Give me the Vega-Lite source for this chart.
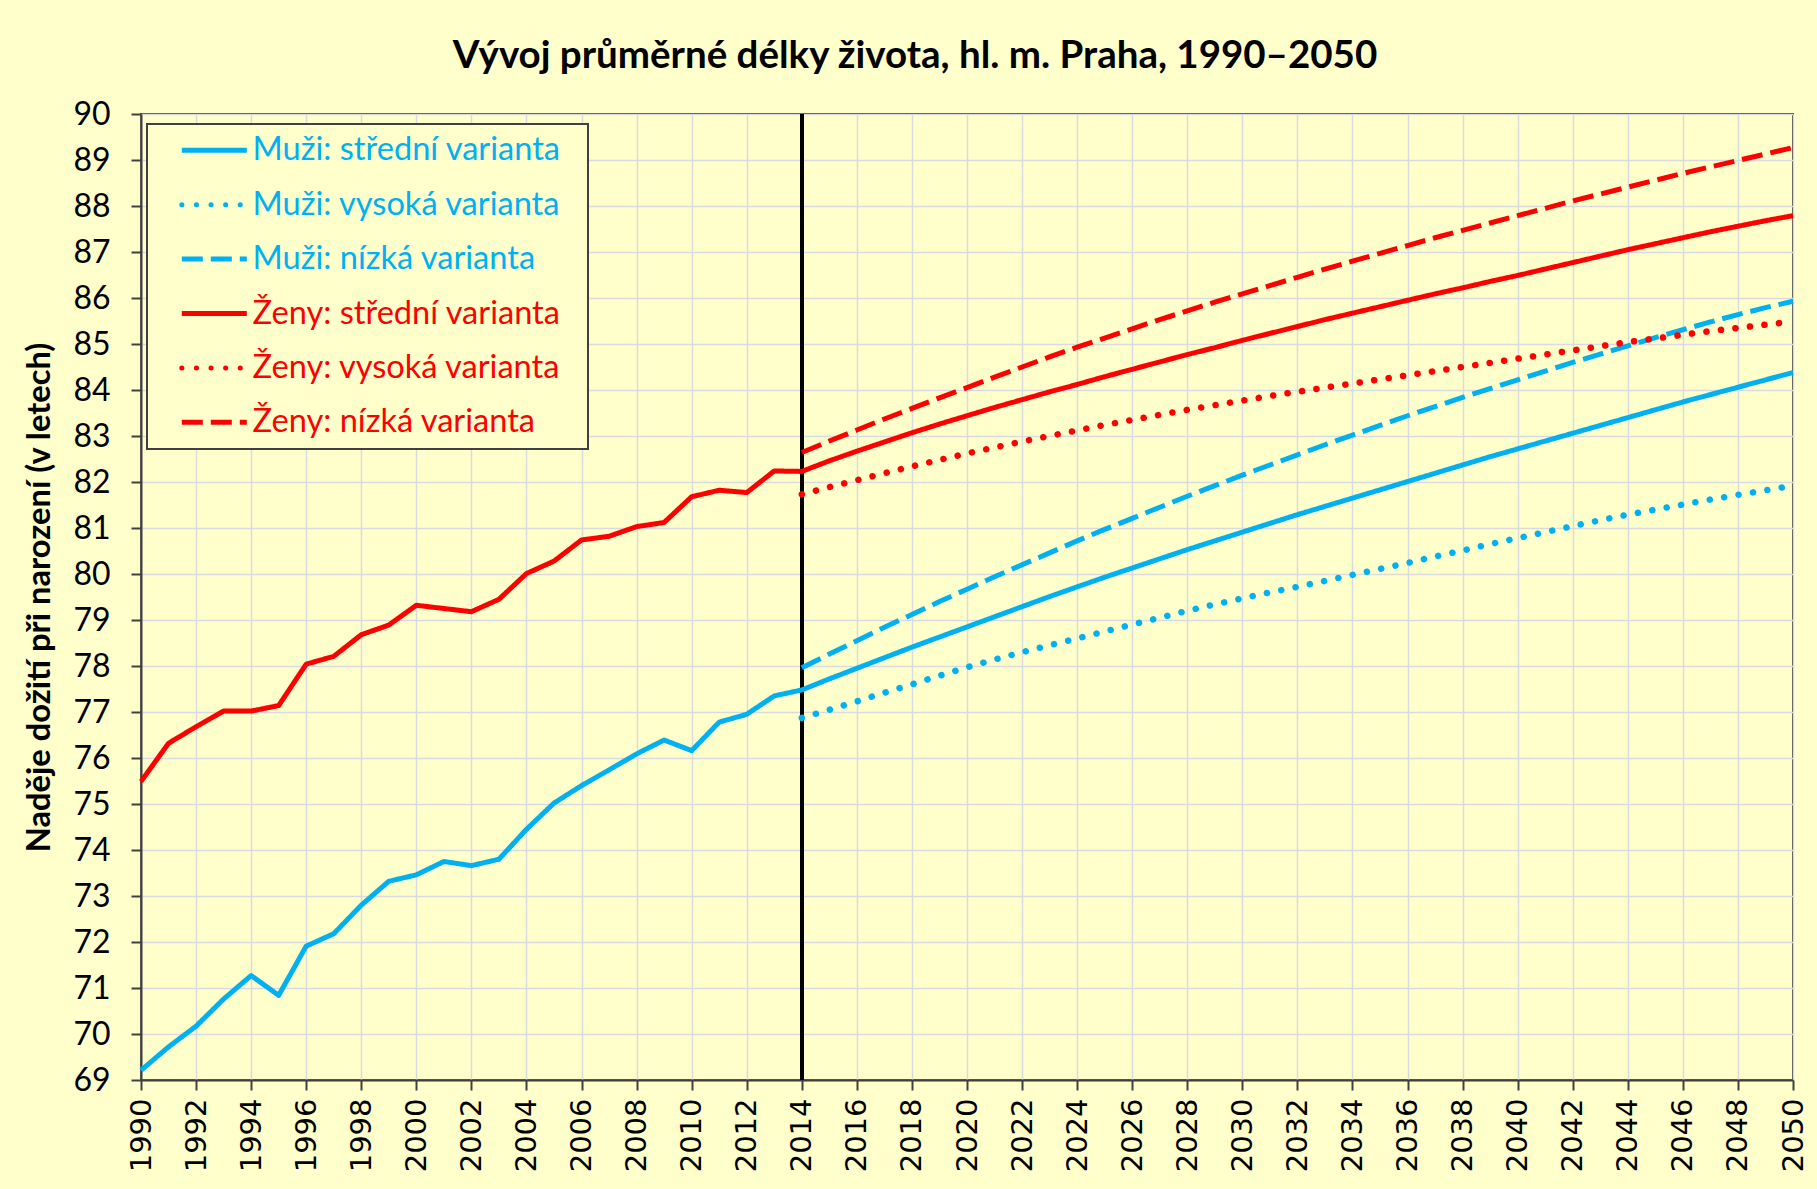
{
  "$schema": "https://vega.github.io/schema/vega-lite/v6.json",
  "width": 1652,
  "height": 966,
  "autosize": "none",
  "padding": {"left": 141, "top": 114, "right": 24, "bottom": 109},
  "background": "#FFFFCC",
  "title": {"text": "Vývoj průměrné délky života, hl. m. Praha, 1990–2050", "font": "Lato", "fontSize": 38.5, "fontWeight": "bold", "color": "#000000", "anchor": "middle", "offset": 40, "dx": -52, "dy": 18},
  "config": {"view": {"stroke": "#404040", "strokeWidth": 2}},
  "datasets": {
    "d": [
      {"year": 1990, "series": "Muži: střední varianta", "value": 69.21},
      {"year": 1991, "series": "Muži: střední varianta", "value": 69.72},
      {"year": 1992, "series": "Muži: střední varianta", "value": 70.17},
      {"year": 1993, "series": "Muži: střední varianta", "value": 70.76},
      {"year": 1994, "series": "Muži: střední varianta", "value": 71.27},
      {"year": 1995, "series": "Muži: střední varianta", "value": 70.84},
      {"year": 1996, "series": "Muži: střední varianta", "value": 71.91},
      {"year": 1997, "series": "Muži: střední varianta", "value": 72.18},
      {"year": 1998, "series": "Muži: střední varianta", "value": 72.80},
      {"year": 1999, "series": "Muži: střední varianta", "value": 73.32},
      {"year": 2000, "series": "Muži: střední varianta", "value": 73.46},
      {"year": 2001, "series": "Muži: střední varianta", "value": 73.75},
      {"year": 2002, "series": "Muži: střední varianta", "value": 73.66},
      {"year": 2003, "series": "Muži: střední varianta", "value": 73.80},
      {"year": 2004, "series": "Muži: střední varianta", "value": 74.45},
      {"year": 2005, "series": "Muži: střední varianta", "value": 75.02},
      {"year": 2006, "series": "Muži: střední varianta", "value": 75.40},
      {"year": 2007, "series": "Muži: střední varianta", "value": 75.74},
      {"year": 2008, "series": "Muži: střední varianta", "value": 76.09},
      {"year": 2009, "series": "Muži: střední varianta", "value": 76.39},
      {"year": 2010, "series": "Muži: střední varianta", "value": 76.16},
      {"year": 2011, "series": "Muži: střední varianta", "value": 76.78},
      {"year": 2012, "series": "Muži: střední varianta", "value": 76.95},
      {"year": 2013, "series": "Muži: střední varianta", "value": 77.35},
      {"year": 2014, "series": "Muži: střední varianta", "value": 77.48},
      {"year": 2015, "series": "Muži: střední varianta", "value": 77.72},
      {"year": 2016, "series": "Muži: střední varianta", "value": 77.95},
      {"year": 2017, "series": "Muži: střední varianta", "value": 78.18},
      {"year": 2018, "series": "Muži: střední varianta", "value": 78.41},
      {"year": 2019, "series": "Muži: střední varianta", "value": 78.63},
      {"year": 2020, "series": "Muži: střední varianta", "value": 78.85},
      {"year": 2021, "series": "Muži: střední varianta", "value": 79.07},
      {"year": 2022, "series": "Muži: střední varianta", "value": 79.29},
      {"year": 2023, "series": "Muži: střední varianta", "value": 79.51},
      {"year": 2024, "series": "Muži: střední varianta", "value": 79.72},
      {"year": 2025, "series": "Muži: střední varianta", "value": 79.93},
      {"year": 2026, "series": "Muži: střední varianta", "value": 80.13},
      {"year": 2027, "series": "Muži: střední varianta", "value": 80.33},
      {"year": 2028, "series": "Muži: střední varianta", "value": 80.53},
      {"year": 2029, "series": "Muži: střední varianta", "value": 80.72},
      {"year": 2030, "series": "Muži: střední varianta", "value": 80.91},
      {"year": 2031, "series": "Muži: střední varianta", "value": 81.10},
      {"year": 2032, "series": "Muži: střední varianta", "value": 81.29},
      {"year": 2033, "series": "Muži: střední varianta", "value": 81.47},
      {"year": 2034, "series": "Muži: střední varianta", "value": 81.65},
      {"year": 2035, "series": "Muži: střední varianta", "value": 81.83},
      {"year": 2036, "series": "Muži: střední varianta", "value": 82.01},
      {"year": 2037, "series": "Muži: střední varianta", "value": 82.19},
      {"year": 2038, "series": "Muži: střední varianta", "value": 82.37},
      {"year": 2039, "series": "Muži: střední varianta", "value": 82.55},
      {"year": 2040, "series": "Muži: střední varianta", "value": 82.72},
      {"year": 2041, "series": "Muži: střední varianta", "value": 82.89},
      {"year": 2042, "series": "Muži: střední varianta", "value": 83.06},
      {"year": 2043, "series": "Muži: střední varianta", "value": 83.23},
      {"year": 2044, "series": "Muži: střední varianta", "value": 83.40},
      {"year": 2045, "series": "Muži: střední varianta", "value": 83.57},
      {"year": 2046, "series": "Muži: střední varianta", "value": 83.74},
      {"year": 2047, "series": "Muži: střední varianta", "value": 83.90},
      {"year": 2048, "series": "Muži: střední varianta", "value": 84.06},
      {"year": 2049, "series": "Muži: střední varianta", "value": 84.22},
      {"year": 2050, "series": "Muži: střední varianta", "value": 84.38},

      {"year": 2014, "series": "Muži: vysoká varianta", "value": 76.87},
      {"year": 2015, "series": "Muži: vysoká varianta", "value": 77.05},
      {"year": 2016, "series": "Muži: vysoká varianta", "value": 77.23},
      {"year": 2017, "series": "Muži: vysoká varianta", "value": 77.42},
      {"year": 2018, "series": "Muži: vysoká varianta", "value": 77.60},
      {"year": 2019, "series": "Muži: vysoká varianta", "value": 77.79},
      {"year": 2020, "series": "Muži: vysoká varianta", "value": 77.97},
      {"year": 2021, "series": "Muži: vysoká varianta", "value": 78.14},
      {"year": 2022, "series": "Muži: vysoká varianta", "value": 78.30},
      {"year": 2023, "series": "Muži: vysoká varianta", "value": 78.45},
      {"year": 2024, "series": "Muži: vysoká varianta", "value": 78.60},
      {"year": 2025, "series": "Muži: vysoká varianta", "value": 78.75},
      {"year": 2026, "series": "Muži: vysoká varianta", "value": 78.90},
      {"year": 2027, "series": "Muži: vysoká varianta", "value": 79.05},
      {"year": 2028, "series": "Muži: vysoká varianta", "value": 79.20},
      {"year": 2029, "series": "Muži: vysoká varianta", "value": 79.34},
      {"year": 2030, "series": "Muži: vysoká varianta", "value": 79.47},
      {"year": 2031, "series": "Muži: vysoká varianta", "value": 79.60},
      {"year": 2032, "series": "Muži: vysoká varianta", "value": 79.72},
      {"year": 2033, "series": "Muži: vysoká varianta", "value": 79.85},
      {"year": 2034, "series": "Muži: vysoká varianta", "value": 79.98},
      {"year": 2035, "series": "Muži: vysoká varianta", "value": 80.11},
      {"year": 2036, "series": "Muži: vysoká varianta", "value": 80.24},
      {"year": 2037, "series": "Muži: vysoká varianta", "value": 80.38},
      {"year": 2038, "series": "Muži: vysoká varianta", "value": 80.51},
      {"year": 2039, "series": "Muži: vysoká varianta", "value": 80.65},
      {"year": 2040, "series": "Muži: vysoká varianta", "value": 80.78},
      {"year": 2041, "series": "Muži: vysoká varianta", "value": 80.91},
      {"year": 2042, "series": "Muži: vysoká varianta", "value": 81.04},
      {"year": 2043, "series": "Muži: vysoká varianta", "value": 81.17},
      {"year": 2044, "series": "Muži: vysoká varianta", "value": 81.29},
      {"year": 2045, "series": "Muži: vysoká varianta", "value": 81.40},
      {"year": 2046, "series": "Muži: vysoká varianta", "value": 81.51},
      {"year": 2047, "series": "Muži: vysoká varianta", "value": 81.62},
      {"year": 2048, "series": "Muži: vysoká varianta", "value": 81.72},
      {"year": 2049, "series": "Muži: vysoká varianta", "value": 81.82},
      {"year": 2050, "series": "Muži: vysoká varianta", "value": 81.92},

      {"year": 2014, "series": "Muži: nízká varianta", "value": 77.96},
      {"year": 2015, "series": "Muži: nízká varianta", "value": 78.26},
      {"year": 2016, "series": "Muži: nízká varianta", "value": 78.55},
      {"year": 2017, "series": "Muži: nízká varianta", "value": 78.84},
      {"year": 2018, "series": "Muži: nízká varianta", "value": 79.12},
      {"year": 2019, "series": "Muži: nízká varianta", "value": 79.40},
      {"year": 2020, "series": "Muži: nízká varianta", "value": 79.67},
      {"year": 2021, "series": "Muži: nízká varianta", "value": 79.94},
      {"year": 2022, "series": "Muži: nízká varianta", "value": 80.20},
      {"year": 2023, "series": "Muži: nízká varianta", "value": 80.46},
      {"year": 2024, "series": "Muži: nízká varianta", "value": 80.72},
      {"year": 2025, "series": "Muži: nízká varianta", "value": 80.97},
      {"year": 2026, "series": "Muži: nízká varianta", "value": 81.21},
      {"year": 2027, "series": "Muži: nízká varianta", "value": 81.45},
      {"year": 2028, "series": "Muži: nízká varianta", "value": 81.69},
      {"year": 2029, "series": "Muži: nízká varianta", "value": 81.92},
      {"year": 2030, "series": "Muži: nízká varianta", "value": 82.15},
      {"year": 2031, "series": "Muži: nízká varianta", "value": 82.37},
      {"year": 2032, "series": "Muži: nízká varianta", "value": 82.59},
      {"year": 2033, "series": "Muži: nízká varianta", "value": 82.81},
      {"year": 2034, "series": "Muži: nízká varianta", "value": 83.02},
      {"year": 2035, "series": "Muži: nízká varianta", "value": 83.23},
      {"year": 2036, "series": "Muži: nízká varianta", "value": 83.44},
      {"year": 2037, "series": "Muži: nízká varianta", "value": 83.64},
      {"year": 2038, "series": "Muži: nízká varianta", "value": 83.84},
      {"year": 2039, "series": "Muži: nízká varianta", "value": 84.03},
      {"year": 2040, "series": "Muži: nízká varianta", "value": 84.22},
      {"year": 2041, "series": "Muži: nízká varianta", "value": 84.41},
      {"year": 2042, "series": "Muži: nízká varianta", "value": 84.60},
      {"year": 2043, "series": "Muži: nízká varianta", "value": 84.78},
      {"year": 2044, "series": "Muži: nízká varianta", "value": 84.96},
      {"year": 2045, "series": "Muži: nízká varianta", "value": 85.14},
      {"year": 2046, "series": "Muži: nízká varianta", "value": 85.31},
      {"year": 2047, "series": "Muži: nízká varianta", "value": 85.48},
      {"year": 2048, "series": "Muži: nízká varianta", "value": 85.64},
      {"year": 2049, "series": "Muži: nízká varianta", "value": 85.79},
      {"year": 2050, "series": "Muži: nízká varianta", "value": 85.93},

      {"year": 1990, "series": "Ženy: střední varianta", "value": 75.49},
      {"year": 1991, "series": "Ženy: střední varianta", "value": 76.32},
      {"year": 1992, "series": "Ženy: střední varianta", "value": 76.68},
      {"year": 1993, "series": "Ženy: střední varianta", "value": 77.02},
      {"year": 1994, "series": "Ženy: střední varianta", "value": 77.02},
      {"year": 1995, "series": "Ženy: střední varianta", "value": 77.14},
      {"year": 1996, "series": "Ženy: střední varianta", "value": 78.04},
      {"year": 1997, "series": "Ženy: střední varianta", "value": 78.21},
      {"year": 1998, "series": "Ženy: střední varianta", "value": 78.68},
      {"year": 1999, "series": "Ženy: střední varianta", "value": 78.89},
      {"year": 2000, "series": "Ženy: střední varianta", "value": 79.32},
      {"year": 2001, "series": "Ženy: střední varianta", "value": 79.25},
      {"year": 2002, "series": "Ženy: střední varianta", "value": 79.18},
      {"year": 2003, "series": "Ženy: střední varianta", "value": 79.45},
      {"year": 2004, "series": "Ženy: střední varianta", "value": 80.01},
      {"year": 2005, "series": "Ženy: střední varianta", "value": 80.28},
      {"year": 2006, "series": "Ženy: střední varianta", "value": 80.74},
      {"year": 2007, "series": "Ženy: střední varianta", "value": 80.82},
      {"year": 2008, "series": "Ženy: střední varianta", "value": 81.03},
      {"year": 2009, "series": "Ženy: střední varianta", "value": 81.12},
      {"year": 2010, "series": "Ženy: střední varianta", "value": 81.68},
      {"year": 2011, "series": "Ženy: střední varianta", "value": 81.82},
      {"year": 2012, "series": "Ženy: střední varianta", "value": 81.77},
      {"year": 2013, "series": "Ženy: střední varianta", "value": 82.24},
      {"year": 2014, "series": "Ženy: střední varianta", "value": 82.23},
      {"year": 2015, "series": "Ženy: střední varianta", "value": 82.46},
      {"year": 2016, "series": "Ženy: střední varianta", "value": 82.67},
      {"year": 2017, "series": "Ženy: střední varianta", "value": 82.87},
      {"year": 2018, "series": "Ženy: střední varianta", "value": 83.07},
      {"year": 2019, "series": "Ženy: střední varianta", "value": 83.26},
      {"year": 2020, "series": "Ženy: střední varianta", "value": 83.44},
      {"year": 2021, "series": "Ženy: střední varianta", "value": 83.62},
      {"year": 2022, "series": "Ženy: střední varianta", "value": 83.79},
      {"year": 2023, "series": "Ženy: střední varianta", "value": 83.96},
      {"year": 2024, "series": "Ženy: střední varianta", "value": 84.12},
      {"year": 2025, "series": "Ženy: střední varianta", "value": 84.29},
      {"year": 2026, "series": "Ženy: střední varianta", "value": 84.45},
      {"year": 2027, "series": "Ženy: střední varianta", "value": 84.61},
      {"year": 2028, "series": "Ženy: střední varianta", "value": 84.77},
      {"year": 2029, "series": "Ženy: střední varianta", "value": 84.92},
      {"year": 2030, "series": "Ženy: střední varianta", "value": 85.08},
      {"year": 2031, "series": "Ženy: střední varianta", "value": 85.23},
      {"year": 2032, "series": "Ženy: střední varianta", "value": 85.38},
      {"year": 2033, "series": "Ženy: střední varianta", "value": 85.53},
      {"year": 2034, "series": "Ženy: střední varianta", "value": 85.67},
      {"year": 2035, "series": "Ženy: střední varianta", "value": 85.81},
      {"year": 2036, "series": "Ženy: střední varianta", "value": 85.95},
      {"year": 2037, "series": "Ženy: střední varianta", "value": 86.09},
      {"year": 2038, "series": "Ženy: střední varianta", "value": 86.22},
      {"year": 2039, "series": "Ženy: střední varianta", "value": 86.36},
      {"year": 2040, "series": "Ženy: střední varianta", "value": 86.49},
      {"year": 2041, "series": "Ženy: střední varianta", "value": 86.63},
      {"year": 2042, "series": "Ženy: střední varianta", "value": 86.77},
      {"year": 2043, "series": "Ženy: střední varianta", "value": 86.91},
      {"year": 2044, "series": "Ženy: střední varianta", "value": 87.05},
      {"year": 2045, "series": "Ženy: střední varianta", "value": 87.18},
      {"year": 2046, "series": "Ženy: střední varianta", "value": 87.31},
      {"year": 2047, "series": "Ženy: střední varianta", "value": 87.44},
      {"year": 2048, "series": "Ženy: střední varianta", "value": 87.56},
      {"year": 2049, "series": "Ženy: střední varianta", "value": 87.68},
      {"year": 2050, "series": "Ženy: střední varianta", "value": 87.79},

      {"year": 2014, "series": "Ženy: vysoká varianta", "value": 81.73},
      {"year": 2015, "series": "Ženy: vysoká varianta", "value": 81.89},
      {"year": 2016, "series": "Ženy: vysoká varianta", "value": 82.04},
      {"year": 2017, "series": "Ženy: vysoká varianta", "value": 82.19},
      {"year": 2018, "series": "Ženy: vysoká varianta", "value": 82.34},
      {"year": 2019, "series": "Ženy: vysoká varianta", "value": 82.48},
      {"year": 2020, "series": "Ženy: vysoká varianta", "value": 82.62},
      {"year": 2021, "series": "Ženy: vysoká varianta", "value": 82.75},
      {"year": 2022, "series": "Ženy: vysoká varianta", "value": 82.88},
      {"year": 2023, "series": "Ženy: vysoká varianta", "value": 83.00},
      {"year": 2024, "series": "Ženy: vysoká varianta", "value": 83.12},
      {"year": 2025, "series": "Ženy: vysoká varianta", "value": 83.24},
      {"year": 2026, "series": "Ženy: vysoká varianta", "value": 83.35},
      {"year": 2027, "series": "Ženy: vysoká varianta", "value": 83.46},
      {"year": 2028, "series": "Ženy: vysoká varianta", "value": 83.57},
      {"year": 2029, "series": "Ženy: vysoká varianta", "value": 83.67},
      {"year": 2030, "series": "Ženy: vysoká varianta", "value": 83.77},
      {"year": 2031, "series": "Ženy: vysoká varianta", "value": 83.87},
      {"year": 2032, "series": "Ženy: vysoká varianta", "value": 83.96},
      {"year": 2033, "series": "Ženy: vysoká varianta", "value": 84.05},
      {"year": 2034, "series": "Ženy: vysoká varianta", "value": 84.14},
      {"year": 2035, "series": "Ženy: vysoká varianta", "value": 84.23},
      {"year": 2036, "series": "Ženy: vysoká varianta", "value": 84.32},
      {"year": 2037, "series": "Ženy: vysoká varianta", "value": 84.41},
      {"year": 2038, "series": "Ženy: vysoká varianta", "value": 84.50},
      {"year": 2039, "series": "Ženy: vysoká varianta", "value": 84.59},
      {"year": 2040, "series": "Ženy: vysoká varianta", "value": 84.68},
      {"year": 2041, "series": "Ženy: vysoká varianta", "value": 84.77},
      {"year": 2042, "series": "Ženy: vysoká varianta", "value": 84.86},
      {"year": 2043, "series": "Ženy: vysoká varianta", "value": 84.95},
      {"year": 2044, "series": "Ženy: vysoká varianta", "value": 85.04},
      {"year": 2045, "series": "Ženy: vysoká varianta", "value": 85.12},
      {"year": 2046, "series": "Ženy: vysoká varianta", "value": 85.20},
      {"year": 2047, "series": "Ženy: vysoká varianta", "value": 85.28},
      {"year": 2048, "series": "Ženy: vysoká varianta", "value": 85.35},
      {"year": 2049, "series": "Ženy: vysoká varianta", "value": 85.42},
      {"year": 2050, "series": "Ženy: vysoká varianta", "value": 85.49},

      {"year": 2014, "series": "Ženy: nízká varianta", "value": 82.64},
      {"year": 2015, "series": "Ženy: nízká varianta", "value": 82.89},
      {"year": 2016, "series": "Ženy: nízká varianta", "value": 83.13},
      {"year": 2017, "series": "Ženy: nízká varianta", "value": 83.37},
      {"year": 2018, "series": "Ženy: nízká varianta", "value": 83.60},
      {"year": 2019, "series": "Ženy: nízká varianta", "value": 83.83},
      {"year": 2020, "series": "Ženy: nízká varianta", "value": 84.05},
      {"year": 2021, "series": "Ženy: nízká varianta", "value": 84.28},
      {"year": 2022, "series": "Ženy: nízká varianta", "value": 84.50},
      {"year": 2023, "series": "Ženy: nízká varianta", "value": 84.72},
      {"year": 2024, "series": "Ženy: nízká varianta", "value": 84.93},
      {"year": 2025, "series": "Ženy: nízká varianta", "value": 85.13},
      {"year": 2026, "series": "Ženy: nízká varianta", "value": 85.33},
      {"year": 2027, "series": "Ženy: nízká varianta", "value": 85.53},
      {"year": 2028, "series": "Ženy: nízká varianta", "value": 85.72},
      {"year": 2029, "series": "Ženy: nízká varianta", "value": 85.91},
      {"year": 2030, "series": "Ženy: nízká varianta", "value": 86.09},
      {"year": 2031, "series": "Ženy: nízká varianta", "value": 86.27},
      {"year": 2032, "series": "Ženy: nízká varianta", "value": 86.45},
      {"year": 2033, "series": "Ženy: nízká varianta", "value": 86.63},
      {"year": 2034, "series": "Ženy: nízká varianta", "value": 86.80},
      {"year": 2035, "series": "Ženy: nízká varianta", "value": 86.97},
      {"year": 2036, "series": "Ženy: nízká varianta", "value": 87.14},
      {"year": 2037, "series": "Ženy: nízká varianta", "value": 87.31},
      {"year": 2038, "series": "Ženy: nízká varianta", "value": 87.47},
      {"year": 2039, "series": "Ženy: nízká varianta", "value": 87.63},
      {"year": 2040, "series": "Ženy: nízká varianta", "value": 87.79},
      {"year": 2041, "series": "Ženy: nízká varianta", "value": 87.95},
      {"year": 2042, "series": "Ženy: nízká varianta", "value": 88.11},
      {"year": 2043, "series": "Ženy: nízká varianta", "value": 88.26},
      {"year": 2044, "series": "Ženy: nízká varianta", "value": 88.41},
      {"year": 2045, "series": "Ženy: nízká varianta", "value": 88.56},
      {"year": 2046, "series": "Ženy: nízká varianta", "value": 88.71},
      {"year": 2047, "series": "Ženy: nízká varianta", "value": 88.85},
      {"year": 2048, "series": "Ženy: nízká varianta", "value": 88.99},
      {"year": 2049, "series": "Ženy: nízká varianta", "value": 89.13},
      {"year": 2050, "series": "Ženy: nízká varianta", "value": 89.27}
    ]
  },
  "data": {"name": "d"},
  "layer": [
    {
      "mark": {"type": "rule", "color": "#000000", "strokeWidth": 2.5},
      "encoding": {"x": {"datum": 2014, "type": "quantitative"}}
    },
    {
      "transform": [{"filter": "indexof(datum.series, 'vysoká') < 0"}],
      "mark": {"type": "line", "strokeWidth": 5, "strokeCap": "butt", "strokeJoin": "round"},
      "encoding": {
        "x": {"field": "year", "type": "quantitative",
          "scale": {"domain": [1990, 2050], "nice": false, "zero": false},
          "axis": {"title": null, "values": [1990,1991,1992,1993,1994,1995,1996,1997,1998,1999,2000,2001,2002,2003,2004,2005,2006,2007,2008,2009,2010,2011,2012,2013,2014,2015,2016,2017,2018,2019,2020,2021,2022,2023,2024,2025,2026,2027,2028,2029,2030,2031,2032,2033,2034,2035,2036,2037,2038,2039,2040,2041,2042,2043,2044,2045,2046,2047,2048,2049,2050],
            "format": "d", "labelExpr": "datum.value % 2 === 0 ? datum.label : ''",
            "labelAngle": -90, "labelFont": "DejaVu Sans", "labelFontSize": 29, "labelColor": "#000000",
            "labelPadding": 8, "labelOverlap": false, "labelBound": false, "labelFlush": false,
            "tickSize": 10, "tickColor": "#404040", "tickWidth": 2,
            "domainColor": "#404040", "domainWidth": 2,
            "grid": true, "gridColor": "#D9D9E0", "gridWidth": 1.5}},
        "y": {"field": "value", "type": "quantitative",
          "scale": {"domain": [69, 90], "nice": false, "zero": false},
          "axis": {"title": "Naděje dožití při narození (v letech)", "titleFont": "Lato", "titleFontSize": 32.7, "titleFontWeight": "bold", "titleColor": "#000000", "titlePadding": 16,
            "values": [69,70,71,72,73,74,75,76,77,78,79,80,81,82,83,84,85,86,87,88,89,90],
            "labelFont": "Lato", "labelFontSize": 32, "labelColor": "#000000", "labelPadding": 21,
            "labelOverlap": false, "labelBound": false, "labelFlush": false,
            "tickSize": 10, "tickColor": "#404040", "tickWidth": 2,
            "domainColor": "#404040", "domainWidth": 2,
            "grid": true, "gridColor": "#D9D9E0", "gridWidth": 1.5}},
        "color": {"field": "series", "type": "nominal",
          "scale": {"domain": ["Muži: střední varianta", "Muži: vysoká varianta", "Muži: nízká varianta", "Ženy: střední varianta", "Ženy: vysoká varianta", "Ženy: nízká varianta"],
            "range": ["#00B0F0", "#00B0F0", "#00B0F0", "#FF0000", "#FF0000", "#FF0000"]},
          "legend": {"title": null, "orient": "none", "legendX": 6, "legendY": 10, "direction": "vertical",
            "symbolType": "M-6.5,0H6.5", "symbolSize": 100, "symbolStrokeWidth": 5, "symbolOffset": 41,
            "labelFont": "Lato", "labelFontSize": 32.6, "labelOffset": 22, "labelLimit": 0,
            "labelExpr": "datum.label + '\u2002\u200b'",
            "rowPadding": 21.4,
            "padding": 10, "strokeColor": "#404040", "fillColor": "#FFFFCC",
            "encode": {
              "symbols": {"update": {"strokeCap": {"signal": "indexof(datum.label, 'vysoká') >= 0 ? 'round' : 'butt'"}}},
              "labels": {"update": {"fill": {"signal": "indexof(datum.label, 'Muži') >= 0 ? '#00B0F0' : '#FF0000'"}}},
              "legend": {"update": {"strokeWidth": {"value": 2}}}
            }}},
        "strokeDash": {"field": "series", "type": "nominal",
          "scale": {"domain": ["Muži: střední varianta", "Muži: vysoká varianta", "Muži: nízká varianta", "Ženy: střední varianta", "Ženy: vysoká varianta", "Ženy: nízká varianta"],
            "range": [[1, 0], [0.1, 14.5], [21, 8], [1, 0], [0.1, 14.5], [21, 8]]}}
      }
    },
    {
      "transform": [{"filter": "indexof(datum.series, 'vysoká') >= 0"}],
      "mark": {"type": "line", "strokeWidth": 6.5, "strokeCap": "round", "strokeJoin": "round"},
      "encoding": {
        "x": {"field": "year", "type": "quantitative"},
        "y": {"field": "value", "type": "quantitative"},
        "color": {"field": "series", "type": "nominal"},
        "strokeDash": {"field": "series", "type": "nominal"}
      }
    }
  ]
}
